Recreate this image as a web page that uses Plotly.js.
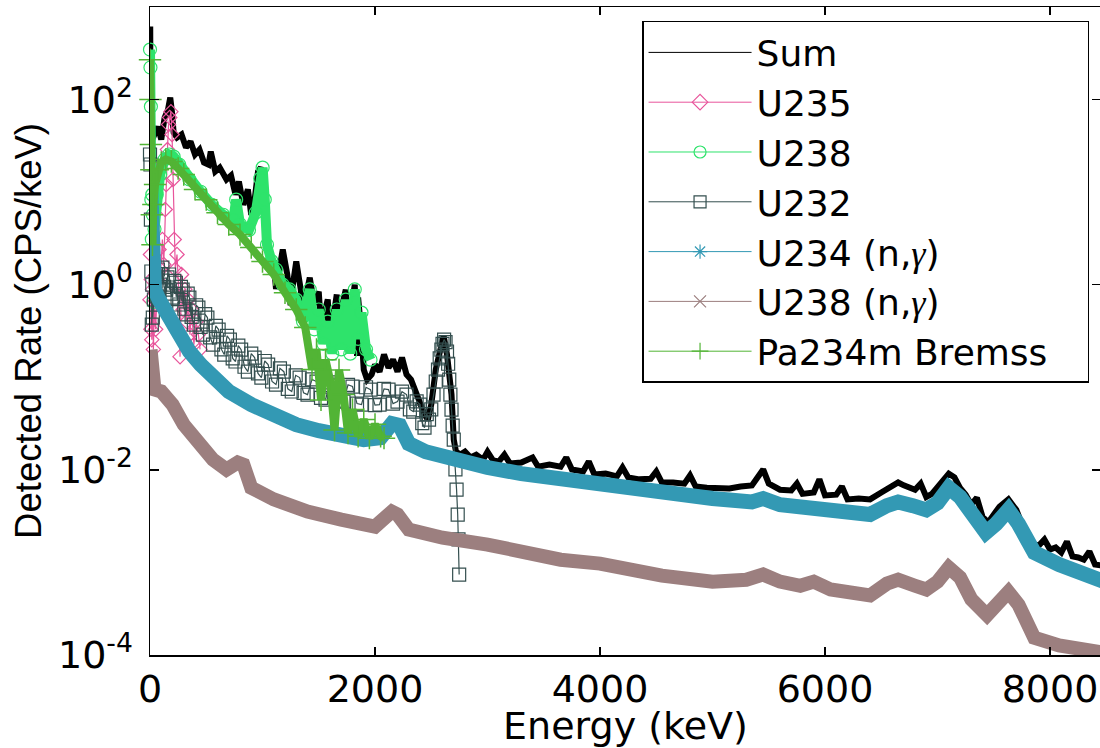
<!DOCTYPE html>
<html>
<head>
<meta charset="utf-8">
<script src="https://cdn.plot.ly/plotly-3.0.1.min.js"></script>
<style>
html, body { margin: 0; padding: 0; overflow: hidden; background: #fff; }
#plot { width: 1104px; height: 748px; }
</style>
</head>
<body>
<div id="plot"></div>
<script>
// ---------- data ----------
const gammaHtml = '<span style="font-family:Liberation Serif;font-style:italic">γ</span>';
const seriesNames = ['Sum', 'U235', 'U238', 'U232', 'U234 (n,' + gammaHtml + ')', 'U238 (n,' + gammaHtml + ')', 'Pa234m Bremss\u00a0\u00a0\u00a0'];
const xTickVals = [0, 2000, 4000, 6000, 8000];
const yTickVals = [1e-4, 1e-2, 1, 1e2];
const yTickText = ['10<sup>-4</sup>', '10<sup>-2</sup>', '10<sup>0</sup>', '10<sup>2</sup>'];

const sumE = [2, 6, 12, 20, 40, 70, 100, 130, 160, 180, 195, 210, 240, 280, 320, 360, 400, 440, 480, 520, 540, 580, 620, 680, 720, 760, 790, 830, 870, 900, 930, 960, 985, 1000, 1010, 1030, 1060, 1100, 1120, 1150, 1180, 1220, 1250, 1270, 1300, 1340, 1360, 1380, 1420, 1460, 1500, 1520, 1540, 1580, 1600, 1620, 1660, 1680, 1700, 1740, 1760, 1780, 1820, 1840, 1850, 1880, 1900, 1930, 1970, 2000, 2040, 2080, 2120, 2160, 2200, 2240, 2280, 2320, 2360, 2400, 2440, 2470, 2500, 2540, 2580, 2610, 2640, 2680, 2700, 2720, 2760, 2800, 2850, 2900, 2960, 3000, 3050, 3100, 3150, 3200, 3300, 3400, 3450, 3550, 3650, 3700, 3750, 3850, 3900, 3950, 4050, 4150, 4200, 4250, 4350, 4450, 4500, 4550, 4650, 4750, 4800, 4850, 4950, 5050, 5150, 5250, 5350, 5450, 5500, 5600, 5700, 5750, 5800, 5900, 5950, 6000, 6100, 6150, 6200, 6300, 6400, 6500, 6600, 6650, 6700, 6800, 6850, 6900, 6950, 7000, 7100, 7150, 7200, 7250, 7300, 7350, 7400, 7450, 7500, 7550, 7630, 7700, 7750, 7800, 7850, 7900, 7950, 8000, 8050, 8100, 8150, 8200, 8250, 8300, 8350, 8400, 8450, 8500];
const sumRate = [615, 13.7, 22.5, 37, 41.9, 51, 37, 64, 78, 105, 74, 44, 38.8, 41.9, 30.3, 35.2, 25.5, 28.8, 20.9, 19.8, 27.4, 16.7, 18.4, 13.7, 15.1, 9.4, 13.0, 7.3, 10.7, 5.7, 8.3, 16.7, 18.4, 15.5, 9.4, 3.08, 2.12, 1.78, 0.9, 1.46, 2.40, 1.29, 0.6, 1.00, 1.78, 0.887, 0.45, 0.692, 1.19, 0.611, 0.843, 0.35, 0.442, 0.692, 0.25, 0.400, 0.783, 0.22, 0.540, 0.887, 0.2, 0.477, 1.00, 0.17, 0.727, 0.289, 0.121, 0.0944, 0.107, 0.137, 0.115, 0.176, 0.127, 0.155, 0.115, 0.163, 0.107, 0.0944, 0.0702, 0.0507, 0.0395, 0.0349, 0.0507, 0.121, 0.199, 0.282, 0.176, 0.065, 0.0212, 0.0157, 0.0146, 0.0157, 0.0136, 0.0146, 0.0129, 0.0157, 0.0126, 0.0123, 0.0146, 0.0117, 0.0120, 0.0136, 0.0108, 0.0114, 0.0108, 0.0136, 0.0101, 0.0096, 0.0123, 0.0089, 0.0091, 0.0085, 0.0106, 0.0083, 0.0079, 0.0080, 0.0096, 0.0073, 0.0073, 0.0071, 0.0087, 0.0066, 0.0064, 0.0064, 0.0063, 0.0066, 0.0068, 0.0101, 0.0071, 0.0061, 0.0060, 0.0071, 0.0055, 0.0057, 0.0079, 0.0053, 0.0054, 0.0066, 0.0048, 0.0049, 0.0048, 0.0057, 0.0066, 0.0073, 0.0068, 0.0061, 0.0071, 0.0051, 0.0055, 0.0064, 0.0091, 0.0083, 0.0064, 0.0054, 0.0042, 0.0050, 0.0031, 0.0027, 0.0033, 0.0040, 0.0048, 0.0037, 0.0026, 0.00185, 0.00156, 0.00152, 0.00177, 0.00138, 0.00145, 0.00128, 0.00168, 0.00116, 0.00113, 0.00107, 0.00131, 0.00095, 0.00093, 0.00088];

const u235E = [0, 4, 8, 12, 16, 22, 30, 40, 50, 65, 80, 95, 110, 122, 135, 144, 155, 165, 175, 186, 196, 205, 215, 225, 240, 255, 267, 280, 295, 310, 325, 340, 355, 370, 390, 410, 430, 445];
const u235Rate = [0.69, 2.12, 0.33, 1.14, 0.255, 0.89, 0.2, 0.69, 0.33, 1.14, 2.4, 1.46, 3.08, 1.65, 6.5, 12.1, 28.8, 53.7, 64, 74, 41.9, 13.7, 3.08, 1.46, 2.12, 0.89, 0.167, 1.29, 0.54, 0.89, 0.4, 0.69, 0.29, 0.54, 0.225, 0.4, 0.29, 0.2];

const u238E = [0, 4, 8, 12, 16, 20, 25, 30, 40, 60, 90, 130, 170, 210, 260, 350, 450, 550, 650, 740, 766, 800, 880, 940, 980, 1001, 1020, 1040, 1080, 1120, 1180, 1240, 1300, 1360, 1420, 1460, 1500, 1540, 1580, 1620, 1660, 1700, 1740, 1780, 1820, 1850, 1880, 1920, 1960];
const u238Rate = [347, 222, 84, 8.3, 3.1, 9.4, 5.7, 0.65, 4.0, 9.4, 15.5, 22.5, 25.5, 24.2, 19.8, 13.7, 10.1, 7.3, 5.7, 5.0, 8.3, 4.5, 3.9, 6.0, 14, 18.4, 8.3, 2.7, 1.8, 1.46, 1.0, 0.89, 0.69, 0.40, 0.89, 0.33, 0.54, 0.23, 0.40, 0.18, 0.54, 0.2, 0.69, 0.18, 0.89, 0.26, 0.5, 0.2, 0.155];

const u232E = [0, 4, 8, 12, 16, 20, 25, 35, 50, 60, 70, 80, 90, 100, 110, 125, 140, 155, 170, 185, 200, 215, 230, 245, 260, 275, 290, 305, 320, 335, 350, 370, 390, 410, 430, 450, 470, 490, 510, 535, 560, 585, 610, 635, 660, 685, 710, 735, 760, 785, 810, 840, 870, 900, 930, 960, 990, 1020, 1050, 1085, 1120, 1155, 1190, 1225, 1260, 1295, 1330, 1365, 1400, 1440, 1480, 1520, 1560, 1600, 1640, 1680, 1720, 1760, 1800, 1840, 1880, 1920, 1960, 2000, 2040, 2080, 2120, 2160, 2200, 2240, 2280, 2310, 2340, 2370, 2400, 2420, 2440, 2460, 2480, 2500, 2520, 2540, 2560, 2575, 2590, 2600, 2614, 2627, 2640, 2650, 2660, 2670, 2680, 2690, 2700, 2715, 2725, 2735, 2742, 2748];
const u232Rate = [25.5, 19.9, 5.06, 1.39, 0.371, 1.00, 0.442, 0.692, 1.08, 0.75, 1.46, 0.9, 1.00, 1.3, 1.53, 0.95, 0.887, 1.2, 1.29, 0.8, 0.727, 1.1, 1.05, 0.7, 0.611, 0.95, 0.887, 0.55, 0.477, 0.8, 0.727, 0.45, 0.371, 0.6, 0.567, 0.35, 0.289, 0.48, 0.442, 0.27, 0.225, 0.36, 0.328, 0.2, 0.176, 0.28, 0.255, 0.16, 0.148, 0.22, 0.199, 0.13, 0.115, 0.18, 0.163, 0.11, 0.0994, 0.15, 0.137, 0.09, 0.0834, 0.125, 0.115, 0.075, 0.0702, 0.105, 0.0994, 0.068, 0.0650, 0.095, 0.0899, 0.06, 0.0574, 0.088, 0.0834, 0.056, 0.0547, 0.083, 0.0794, 0.052, 0.0507, 0.078, 0.0736, 0.05, 0.0507, 0.075, 0.0736, 0.052, 0.0547, 0.07, 0.0650, 0.045, 0.0426, 0.055, 0.0507, 0.032, 0.0286, 0.04, 0.0349, 0.045, 0.0650, 0.09, 0.121, 0.16, 0.199, 0.23, 0.255, 0.24, 0.190, 0.14, 0.0944, 0.065, 0.0448, 0.03, 0.0212, 0.0101, 0.00612, 0.00329, 0.00177, 0.00074];

const u234ngE = [5, 12, 20, 28, 40, 80, 150, 250, 350, 450, 550, 700, 900, 1100, 1300, 1500, 1700, 1900, 2050, 2150, 2220, 2300, 2450, 2700, 3000, 3300, 3650, 4000, 4550, 5000, 5350, 5450, 5600, 5800, 6000, 6250, 6400, 6550, 6650, 6780, 6900, 7000, 7100, 7200, 7300, 7430, 7520, 7630, 7720, 7860, 8080, 8300, 8500];
const u234ngRate = [12.1, 2.4, 5.7, 1.29, 0.887, 0.692, 0.477, 0.289, 0.190, 0.137, 0.102, 0.0702, 0.0507, 0.0385, 0.0308, 0.0265, 0.0234, 0.0212, 0.0223, 0.0316, 0.0301, 0.0192, 0.0157, 0.0129, 0.0106, 0.0091, 0.0079, 0.0068, 0.0055, 0.0049, 0.0045, 0.0049, 0.0042, 0.0040, 0.0036, 0.0034, 0.0033, 0.0041, 0.0045, 0.0041, 0.0037, 0.0044, 0.0064, 0.0051, 0.0033, 0.0021, 0.0026, 0.0037, 0.0026, 0.00128, 0.00095, 0.00072, 0.00061];

const u238ngE = [5, 12, 20, 30, 40, 100, 200, 300, 450, 560, 680, 780, 830, 900, 1100, 1400, 1700, 2000, 2150, 2200, 2300, 2600, 3000, 3650, 4000, 4550, 5000, 5300, 5450, 5600, 5780, 5900, 6050, 6250, 6400, 6550, 6650, 6800, 6900, 7000, 7100, 7200, 7300, 7440, 7530, 7630, 7720, 7860, 8080, 8300, 8500];
const u238ngRate = [0.199, 0.137, 0.0944, 0.176, 0.0736, 0.0702, 0.0507, 0.0308, 0.0188, 0.0129, 0.0101, 0.0120, 0.0114, 0.0064, 0.0048, 0.00354, 0.00290, 0.00244, 0.00354, 0.00329, 0.00226, 0.00185, 0.00156, 0.00107, 0.00097, 0.00072, 0.00062, 0.00065, 0.00074, 0.00062, 0.00056, 0.00062, 0.00051, 0.00045, 0.00044, 0.00059, 0.00065, 0.00056, 0.00051, 0.00062, 0.00088, 0.00069, 0.00040, 0.00027, 0.00034, 0.00048, 0.00035, 0.000154, 0.000127, 0.000113, 0.000105];

const pa234mE = [0, 4, 8, 12, 16, 22, 30, 45, 70, 100, 140, 190, 250, 300, 400, 500, 600, 700, 800, 900, 1000, 1100, 1200, 1300, 1380, 1440, 1480, 1520, 1560, 1600, 1640, 1680, 1720, 1760, 1800, 1850, 1900, 1950, 2000, 2050, 2080];
const pa234mRate = [270, 100, 32.7, 17.5, 5.7, 2.7, 7.35, 12.1, 17.5, 20.9, 22.5, 21.4, 18, 15.5, 10.7, 8.3, 6.0, 4.47, 3.48, 2.52, 1.78, 1.29, 0.82, 0.54, 0.345, 0.121, 0.2, 0.057, 0.155, 0.094, 0.027, 0.12, 0.065, 0.025, 0.045, 0.023, 0.035, 0.022, 0.031, 0.023, 0.022];

// ---------- styles ----------
const cSum = '#000000', cU235 = '#e8559b', cU238 = '#2ee36b', cU232 = '#344f4f',
      cU234 = '#3399b4', cU238ng = '#9c7f7f', cPa = '#52b435';

const dataTraces = [
  {x: sumE, y: sumRate, mode: 'lines', line: {color: cSum, width: 6}},
  {x: u235E, y: u235Rate, mode: 'lines+markers', line: {color: cU235, width: 1.2},
   marker: {symbol: 'diamond-open', size: 11, color: cU235, line: {width: 1.2, color: cU235}}},
  {x: u238E, y: u238Rate, mode: 'lines+markers', line: {color: cU238, width: 10},
   marker: {symbol: 'circle-open', size: 13, color: cU238, line: {width: 1.2, color: cU238}}},
  {x: u232E, y: u232Rate, mode: 'lines+markers', line: {color: cU232, width: 1.2},
   marker: {symbol: 'square-open', size: 13, color: cU232, line: {width: 1.2, color: cU232}}},
  {x: u234ngE, y: u234ngRate, mode: 'lines', line: {color: cU234, width: 15}},
  {x: u238ngE, y: u238ngRate, mode: 'lines', line: {color: cU238ng, width: 14}},
  {x: pa234mE, y: pa234mRate, mode: 'lines+markers', line: {color: cPa, width: 8},
   marker: {symbol: 'cross-thin-open', size: 16, color: cPa, line: {width: 1.5, color: cPa}}}
].map(t => Object.assign(t, {type: 'scatter', showlegend: false, cliponaxis: false, hoverinfo: 'skip'}));

const legendColors = [cSum, cU235, cU238, cU232, cU234, cU238ng, cPa];
const legendSymbols = [null, 'diamond-open', 'circle-open', 'square-open', 'asterisk-open', 'x-thin-open', 'cross-thin-open'];
const legendTraces = seriesNames.map((name, i) => {
  const tr = {
    type: 'scatter', x: [null], y: [null], name: name,
    mode: 'lines', line: {color: legendColors[i], width: 1}
  };
  if (legendSymbols[i]) {
    tr.mode = 'lines+markers';
    tr.marker = {symbol: legendSymbols[i], size: 12, color: legendColors[i], line: {width: 1.2, color: legendColors[i]}};
  }
  return tr;
});

const layout = {
  width: 1104, height: 748,
  margin: {l: 150, r: 3, t: 7, b: 93},
  paper_bgcolor: '#ffffff', plot_bgcolor: '#ffffff',
  font: {family: 'DejaVu Sans', size: 38, color: '#000000'},
  showlegend: true,
  legend: {
    x: 0.5174, y: 0.9784, xanchor: 'left', yanchor: 'top',
    bgcolor: '#ffffff', bordercolor: '#000000', borderwidth: 1.5,
    font: {family: 'DejaVu Sans', size: 36, color: '#000000'},
    itemwidth: 103, tracegroupgap: 0
  },
  xaxis: {
    range: [0, 8453], tickvals: xTickVals, ticktext: xTickVals.map(String),
    ticks: 'inside', ticklen: 8, tickwidth: 1.3, tickcolor: '#000000',
    showline: true, linecolor: '#000000', linewidth: 1.5, mirror: 'allticks',
    showgrid: false, zeroline: false, ticklabelstandoff: 0,
    tickfont: {family: 'DejaVu Sans', size: 38, color: '#000000'},
    title: {text: 'Energy (keV)', font: {family: 'DejaVu Sans', size: 38, color: '#000000'}, standoff: 14}
  },
  yaxis: {
    type: 'log', range: [-4, 3], tickvals: yTickVals, ticktext: yTickText,
    ticks: 'inside', ticklen: 9, tickwidth: 1.3, tickcolor: '#000000',
    showline: true, linecolor: '#000000', linewidth: 1.5, mirror: 'allticks',
    showgrid: false, zeroline: false, ticklabelstandoff: 8,
    tickfont: {family: 'DejaVu Sans', size: 38, color: '#000000'},
    title: {text: 'Detected Rate (CPS/keV)', font: {family: 'Liberation Sans', size: 36.5, color: '#000000'}, standoff: 5}
  }
};

Plotly.newPlot('plot', dataTraces.concat(legendTraces), layout, {staticPlot: true, displayModeBar: false});
</script>
</body>
</html>
